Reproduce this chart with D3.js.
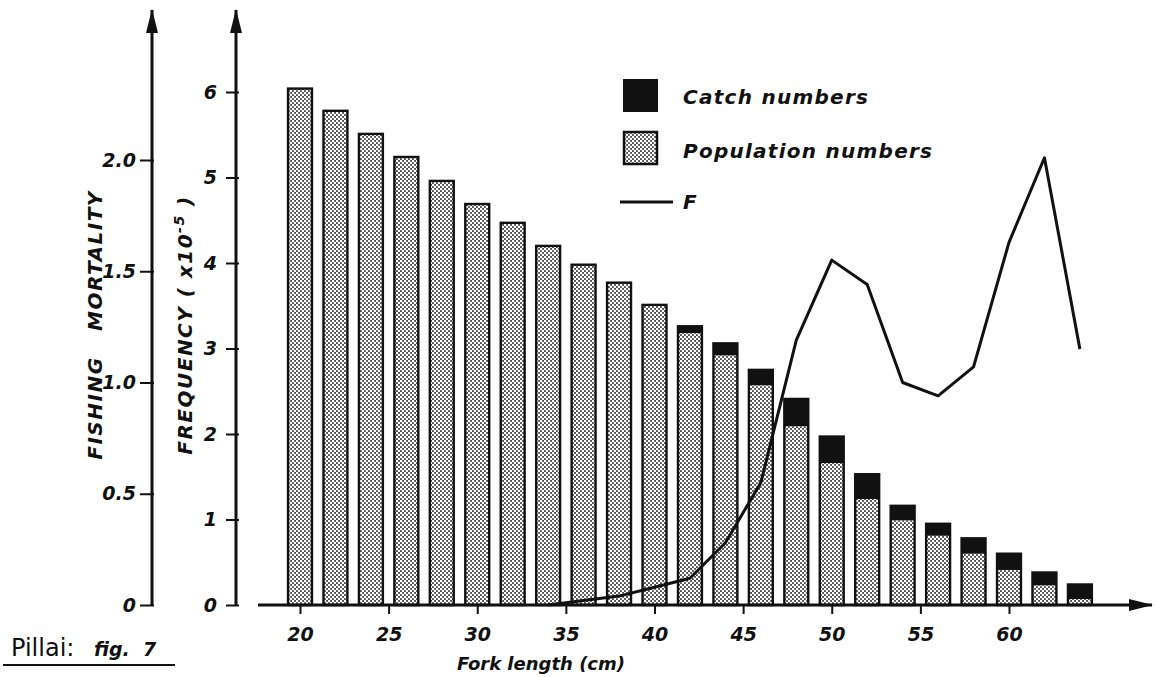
<!DOCTYPE html>
<html>
<head>
<meta charset="utf-8">
<script src="https://cdn.jsdelivr.net/npm/d3@7"></script>
<style>
  body { margin: 0; background: #fff; }
  svg text { font-family: "DejaVu Sans", sans-serif; fill: #111; }
  .lab { font-style: italic; font-weight: bold; }
</style>
</head>
<body>
<svg id="chart" width="1155" height="677"></svg>
<script>
// fork length classes (cm)
var lengths = [20, 22, 24, 26, 28, 30, 32, 34, 36, 38, 40, 42, 44, 46, 48, 50, 52, 54, 56, 58, 60, 62, 64];
// population numbers (x10^-5), stippled part of each bar
var population = [6.04, 5.78, 5.51, 5.24, 4.96, 4.69, 4.47, 4.20, 3.98, 3.77, 3.51, 3.18, 2.92, 2.57, 2.09, 1.66, 1.24, 0.99, 0.81, 0.60, 0.41, 0.23, 0.07];
// catch numbers (x10^-5), black cap on top
var catchNum = [0, 0, 0, 0, 0, 0, 0, 0, 0, 0, 0, 0.08, 0.14, 0.18, 0.32, 0.31, 0.29, 0.17, 0.14, 0.18, 0.19, 0.15, 0.17];
// fishing mortality F
var fLengths = [34, 36, 38, 40, 42, 44, 46, 48, 50, 52, 54, 56, 58, 60, 62, 64];
var fValues = [0, 0.02, 0.04, 0.08, 0.12, 0.28, 0.55, 1.19, 1.55, 1.44, 1.00, 0.94, 1.07, 1.63, 2.01, 1.15];
var xTicks = [20, 25, 30, 35, 40, 45, 50, 55, 60];
var freqTicks = [0, 1, 2, 3, 4, 5, 6];
var fTicks = [0, 0.5, 1.0, 1.5, 2.0];

var svg = d3.select('#chart');
var baseY = 605;
var freqAxisX = 236, mortAxisX = 152;

var xScale = d3.scaleLinear().domain([20, 60]).range([300, 1009]);
var yFreq = d3.scaleLinear().domain([0, 6]).range([baseY, 92]);
var yMort = d3.scaleLinear().domain([0, 2]).range([baseY, 160]);
var barW = xScale(21.35) - xScale(20);

// stipple pattern
var defs = svg.append('defs');
var pat = defs.append('pattern').attr('id', 'dots')
    .attr('width', 4).attr('height', 4).attr('patternUnits', 'userSpaceOnUse');
pat.append('rect').attr('width', 4).attr('height', 4).attr('fill', '#4a4a4a');
pat.append('circle').attr('cx', 1).attr('cy', 1).attr('r', 1.3).attr('fill', '#fff');
pat.append('circle').attr('cx', 3).attr('cy', 3).attr('r', 1.3).attr('fill', '#fff');

defs.append('marker').attr('id', 'arrow')
    .attr('viewBox', '0 0 24 12').attr('refX', 23).attr('refY', 6)
    .attr('markerWidth', 24).attr('markerHeight', 12).attr('markerUnits', 'userSpaceOnUse')
    .attr('orient', 'auto')
  .append('path').attr('d', 'M0,0 L24,6 L0,12 Z').attr('fill', '#111');

var rows = lengths.map(function(l, i) {
  return {len: l, pop: population[i], cat: catchNum[i]};
});

// bars
var bars = svg.append('g').attr('class', 'bars');
bars.selectAll('rect.pop').data(rows).enter().append('rect')
    .attr('class', 'pop')
    .attr('x', function(d) { return xScale(d.len) - barW / 2; })
    .attr('y', function(d) { return yFreq(d.pop); })
    .attr('width', barW)
    .attr('height', function(d) { return baseY - yFreq(d.pop); })
    .attr('fill', 'url(#dots)');
bars.selectAll('rect.cat').data(rows.filter(function(d) { return d.cat > 0; })).enter().append('rect')
    .attr('class', 'cat')
    .attr('x', function(d) { return xScale(d.len) - barW / 2; })
    .attr('y', function(d) { return yFreq(d.pop + d.cat); })
    .attr('width', barW)
    .attr('height', function(d) { return yFreq(d.pop) - yFreq(d.pop + d.cat); })
    .attr('fill', '#111');
bars.selectAll('rect.outline').data(rows).enter().append('rect')
    .attr('class', 'outline')
    .attr('x', function(d) { return xScale(d.len) - barW / 2; })
    .attr('y', function(d) { return yFreq(d.pop + d.cat); })
    .attr('width', barW)
    .attr('height', function(d) { return baseY - yFreq(d.pop + d.cat); })
    .attr('fill', 'none').attr('stroke', '#111').attr('stroke-width', 2.4);

// F line
var fLine = d3.line()
    .x(function(d, i) { return xScale(fLengths[i]); })
    .y(function(d) { return yMort(d); });
svg.append('path').datum(fValues)
    .attr('fill', 'none').attr('stroke', '#111')
    .attr('stroke-width', 3).attr('stroke-linejoin', 'round')
    .attr('d', fLine);

// x axis
var xAxis = svg.append('g').attr('transform', 'translate(0,' + baseY + ')')
    .call(d3.axisBottom(xScale).tickValues(xTicks).tickSize(9).tickPadding(14));
xAxis.select('.domain').remove();
xAxis.selectAll('.tick line').attr('stroke', '#111').attr('stroke-width', 2);
xAxis.selectAll('.tick text').attr('class', 'lab').style('font-size', '19px');
svg.append('line').attr('x1', 258).attr('x2', 1152).attr('y1', baseY).attr('y2', baseY)
    .attr('stroke', '#111').attr('stroke-width', 3).attr('marker-end', 'url(#arrow)');
svg.append('text').attr('class', 'lab').attr('x', 541).attr('y', 670)
    .attr('text-anchor', 'middle').style('font-size', '18px').text('Fork length (cm)');

// frequency axis
var fa = svg.append('g').attr('transform', 'translate(' + freqAxisX + ',0)')
    .call(d3.axisLeft(yFreq).tickValues(freqTicks).tickFormat(d3.format('d')).tickSize(10).tickPadding(9));
fa.select('.domain').remove();
fa.selectAll('.tick line').attr('stroke', '#111').attr('stroke-width', 2).attr('x1', 3);
fa.selectAll('.tick text').attr('class', 'lab').style('font-size', '19px');
svg.append('line').attr('x1', freqAxisX).attr('x2', freqAxisX).attr('y1', baseY).attr('y2', 10)
    .attr('stroke', '#111').attr('stroke-width', 3).attr('marker-end', 'url(#arrow)');
var ft = svg.append('text').attr('class', 'lab')
    .attr('transform', 'translate(192,325) rotate(-90)')
    .attr('text-anchor', 'middle').style('font-size', '20px').style('letter-spacing', '1.5px');
ft.append('tspan').text('FREQUENCY ( x10');
ft.append('tspan').attr('dy', -8).style('font-size', '14px').text('-5');
ft.append('tspan').attr('dy', 8).text(' )');

// fishing mortality axis
var ma = svg.append('g').attr('transform', 'translate(' + mortAxisX + ',0)')
    .call(d3.axisLeft(yMort).tickValues(fTicks)
      .tickFormat(function(d) { return d === 0 ? '0' : d3.format('.1f')(d); })
      .tickSize(12).tickPadding(4));
ma.select('.domain').remove();
ma.selectAll('.tick line').attr('stroke', '#111').attr('stroke-width', 2).attr('x1', 2);
ma.selectAll('.tick text').attr('class', 'lab').style('font-size', '19px');
svg.append('line').attr('x1', mortAxisX).attr('x2', mortAxisX).attr('y1', baseY).attr('y2', 10)
    .attr('stroke', '#111').attr('stroke-width', 3).attr('marker-end', 'url(#arrow)');
svg.append('text').attr('class', 'lab')
    .attr('transform', 'translate(102,325) rotate(-90)')
    .attr('text-anchor', 'middle').style('font-size', '20px').style('letter-spacing', '1.5px')
    .style('white-space', 'pre')
    .text('FISHING   MORTALITY');

// legend
var lg = svg.append('g');
lg.append('rect').attr('x', 623).attr('y', 79).attr('width', 35).attr('height', 33).attr('fill', '#111');
lg.append('text').attr('class', 'lab').attr('x', 683).attr('y', 104).style('font-size', '20px')
    .attr('textLength', 185).attr('lengthAdjust', 'spacing').text('Catch numbers');
lg.append('rect').attr('x', 624).attr('y', 132).attr('width', 33).attr('height', 32)
    .attr('fill', 'url(#dots)').attr('stroke', '#111').attr('stroke-width', 2.5);
lg.append('text').attr('class', 'lab').attr('x', 683).attr('y', 158).style('font-size', '20px')
    .attr('textLength', 249).attr('lengthAdjust', 'spacing').text('Population numbers');
lg.append('line').attr('x1', 620).attr('x2', 673).attr('y1', 202).attr('y2', 202)
    .attr('stroke', '#111').attr('stroke-width', 3);
lg.append('text').attr('class', 'lab').attr('x', 683).attr('y', 209).style('font-size', '20px').text('F');

// caption
svg.append('text').attr('x', 11).attr('y', 656).style('font-size', '24px').text('Pillai:');
svg.append('text').attr('class', 'lab').attr('x', 94).attr('y', 656).style('font-size', '19px')
    .style('white-space', 'pre').text('fig.  7');
svg.append('line').attr('x1', 3).attr('x2', 175).attr('y1', 665).attr('y2', 665)
    .attr('stroke', '#111').attr('stroke-width', 2);
</script>
</body>
</html>
